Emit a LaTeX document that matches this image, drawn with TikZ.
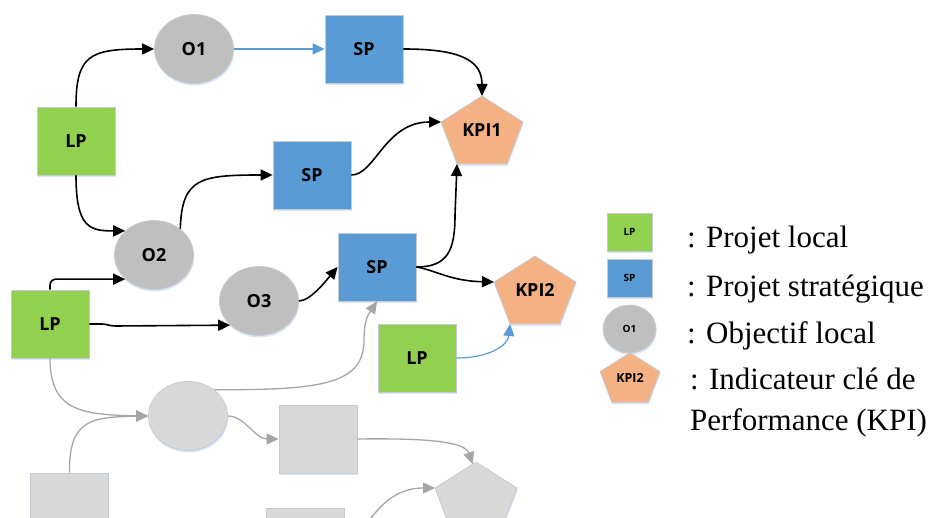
\documentclass[tikz,border=0pt]{standalone}
\usepackage{fontspec}
\setmainfont{Liberation Serif}
\newfontfamily\nodefont{Open Sans}
\usetikzlibrary{arrows.meta,shapes.geometric,shadows,calc}

\definecolor{lpgreen}{HTML}{92D050}
\definecolor{spblue}{HTML}{5B9BD5}
\definecolor{objgray}{HTML}{BFBFBF}
\definecolor{kpiorange}{HTML}{F4B183}
\definecolor{ghost}{HTML}{D9D9D9}
\definecolor{ghostline}{HTML}{A6A6A6}
\definecolor{rim}{HTML}{C3CCD6}
\definecolor{glow}{HTML}{D5E2F2}

\tikzset{
  shade box/.style={draw=rim, line width=0.8pt,
    drop shadow={shadow xshift=0.6pt, shadow yshift=-2pt, fill=glow, opacity=0.8}},
  big label/.style={font=\nodefont\bfseries\fontsize{18}{20}\selectfont},
  box/.style={shade box, rectangle, minimum width=78pt, minimum height=68pt,
    inner sep=0pt, big label},
  lpbox/.style={box, fill=lpgreen},
  spbox/.style={box, fill=spblue},
  ghostbox/.style={box, fill=ghost},
  objbox/.style={shade box, ellipse, fill=objgray, minimum width=79pt,
    minimum height=69pt, inner sep=0pt, big label},
  ghostobj/.style={objbox, fill=ghost},
  small box/.style={shade box, rectangle, minimum width=45pt, minimum height=38pt,
    inner sep=0pt, font=\nodefont\bfseries\fontsize{10}{12}\selectfont},
  small obj/.style={shade box, ellipse, fill=objgray, minimum width=53pt,
    minimum height=48pt, inner sep=0pt, font=\nodefont\bfseries\fontsize{10}{12}\selectfont},
  link/.style={line width=1.6pt, -{Triangle[length=12pt,width=11pt]}},
  bluelink/.style={link, draw=spblue, line width=1.2pt},
  greylink/.style={link, draw=ghostline, line width=1.3pt},
  legend text/.style={anchor=base west, inner sep=0pt, font=\fontsize{31}{36}\selectfont},
}

% pentagon: name, centre x, centre y, scale, fill, label, label size
\newcommand\kpishape[7]{%
  \coordinate (#1-t)  at (#2,{#3-34*#4});
  \coordinate (#1-l)  at ({#2-41*#4},{#3-8*#4});
  \coordinate (#1-r)  at ({#2+41*#4},{#3-8*#4});
  \coordinate (#1-br) at ({#2+25*#4},{#3+34*#4});
  \coordinate (#1-bl) at ({#2-25*#4},{#3+34*#4});
  \path[shade box, fill=#5] (#1-t) -- (#1-r) -- (#1-br) -- (#1-bl) -- (#1-l) -- cycle;
  \node[inner sep=0pt, font=\nodefont\bfseries\fontsize{#7}{#7}\selectfont] (#1) at (#2,#3) {#6};
}

\begin{document}
\begin{tikzpicture}[x=1pt,y=-1pt]
\useasboundingbox (0,0) rectangle (937,518);
\clip (0,0) rectangle (937,518);

% faded network in the background
\node[ghostobj] (g1) at (188,416) {};
\node[ghostbox] (g2) at (318,439) {};
\kpishape{g3}{476}{496}{1}{ghost}{}{18}
\node[ghostbox] (g4) at (69.5,507) {};
\node[ghostbox] (g5) at (305.5,542) {};

% main network
\node[lpbox] (lp1) at (76,141) {LP};
\node[objbox] (o1) at (194,49) {O1};
\node[spbox] (sp1) at (364,49) {SP};
\kpishape{kpi1}{482}{130}{1}{kpiorange}{KPI1}{18}
\node[spbox] (sp2) at (312,175) {SP};
\node[objbox] (o2) at (154,255) {O2};
\node[lpbox] (lp2) at (50,324) {LP};
\node[objbox] (o3) at (259,301) {O3};
\node[spbox] (sp3) at (377,267) {SP};
\kpishape{kpi2}{535}{290}{1}{kpiorange}{KPI2}{18}
\node[lpbox] (lp3) at (417,358) {LP};

% links
\draw[link] (lp1.north) .. controls (76,55) and (90,49) .. (o1.west);
\draw[bluelink] (o1.east) -- (sp1.west);
\draw[link] (sp1.east) .. controls (460,49) and (482,60) .. (kpi1-t);
\draw[link] (sp2.east) .. controls (375,175) and (385,122) .. (kpi1-l);
\draw[link] (lp1.south) .. controls (76,228) and (90,231) .. (o2.140);
\draw[link] (o2.45) .. controls (182,178) and (200,175) .. (sp2.west);
\draw[link, rounded corners=6pt] (lp2.north) |- (o2.220);
\draw[link] (lp2.east) -- ++(12,0) .. controls +(6,0) and +(-6,0) .. ++(14,2) -- (o3.220);
\draw[link] (o3.east) .. controls (310,301) and (325,282) .. (sp3.west);
\draw[link] (sp3.east) .. controls (448,267) and (455,250) .. (455,215) -- (kpi1-bl);
\draw[link] (sp3.east) .. controls (435,270) and (450,281) .. (kpi2-l);
\draw[bluelink] (lp3.east) .. controls (490,358) and (508,345) .. (kpi2-bl);

% faded links
\draw[greylink] (lp2.south) .. controls (50,410) and (80,415) .. (g1.west);
\draw[greylink] (g4.north) .. controls (69,420) and (90,417) .. (g1.west);
\draw[greylink] (g1.east) .. controls (245,416) and (255,439) .. (g2.west);
\draw[greylink] (g1.45) .. controls (320,390) and (364,385) .. (364,340)
  .. controls (364,318) and (370,312) .. (sp3.south);
\draw[greylink] (g2.east) .. controls (430,438) and (465,442) .. ($(g3-t)!0.08!(g3-l)$);
\draw[greylink] (g5.east) .. controls (365,542) and (375,488) .. (g3-l);

% legend
\node[small box, fill=lpgreen] (klp) at (629.5,232) {LP};
\node[small box, fill=spblue] (ksp) at (629.5,278) {SP};
\node[small obj] (ko) at (629.5,329) {O1};
\kpishape{kkpi}{630}{377.5}{0.73}{kpiorange}{KPI2}{12.5}

\node[legend text] (t1) at (687,248) {: Projet local};
\node[legend text] (t2) at (687,297) {: Projet stratégique};
\node[legend text] (t3) at (687,344) {: Objectif local};
\node[legend text] (t4) at (690,389) {: Indicateur clé de};
\node[legend text] (t5) at (690,430) {Performance (KPI)};
\end{tikzpicture}
\end{document}
